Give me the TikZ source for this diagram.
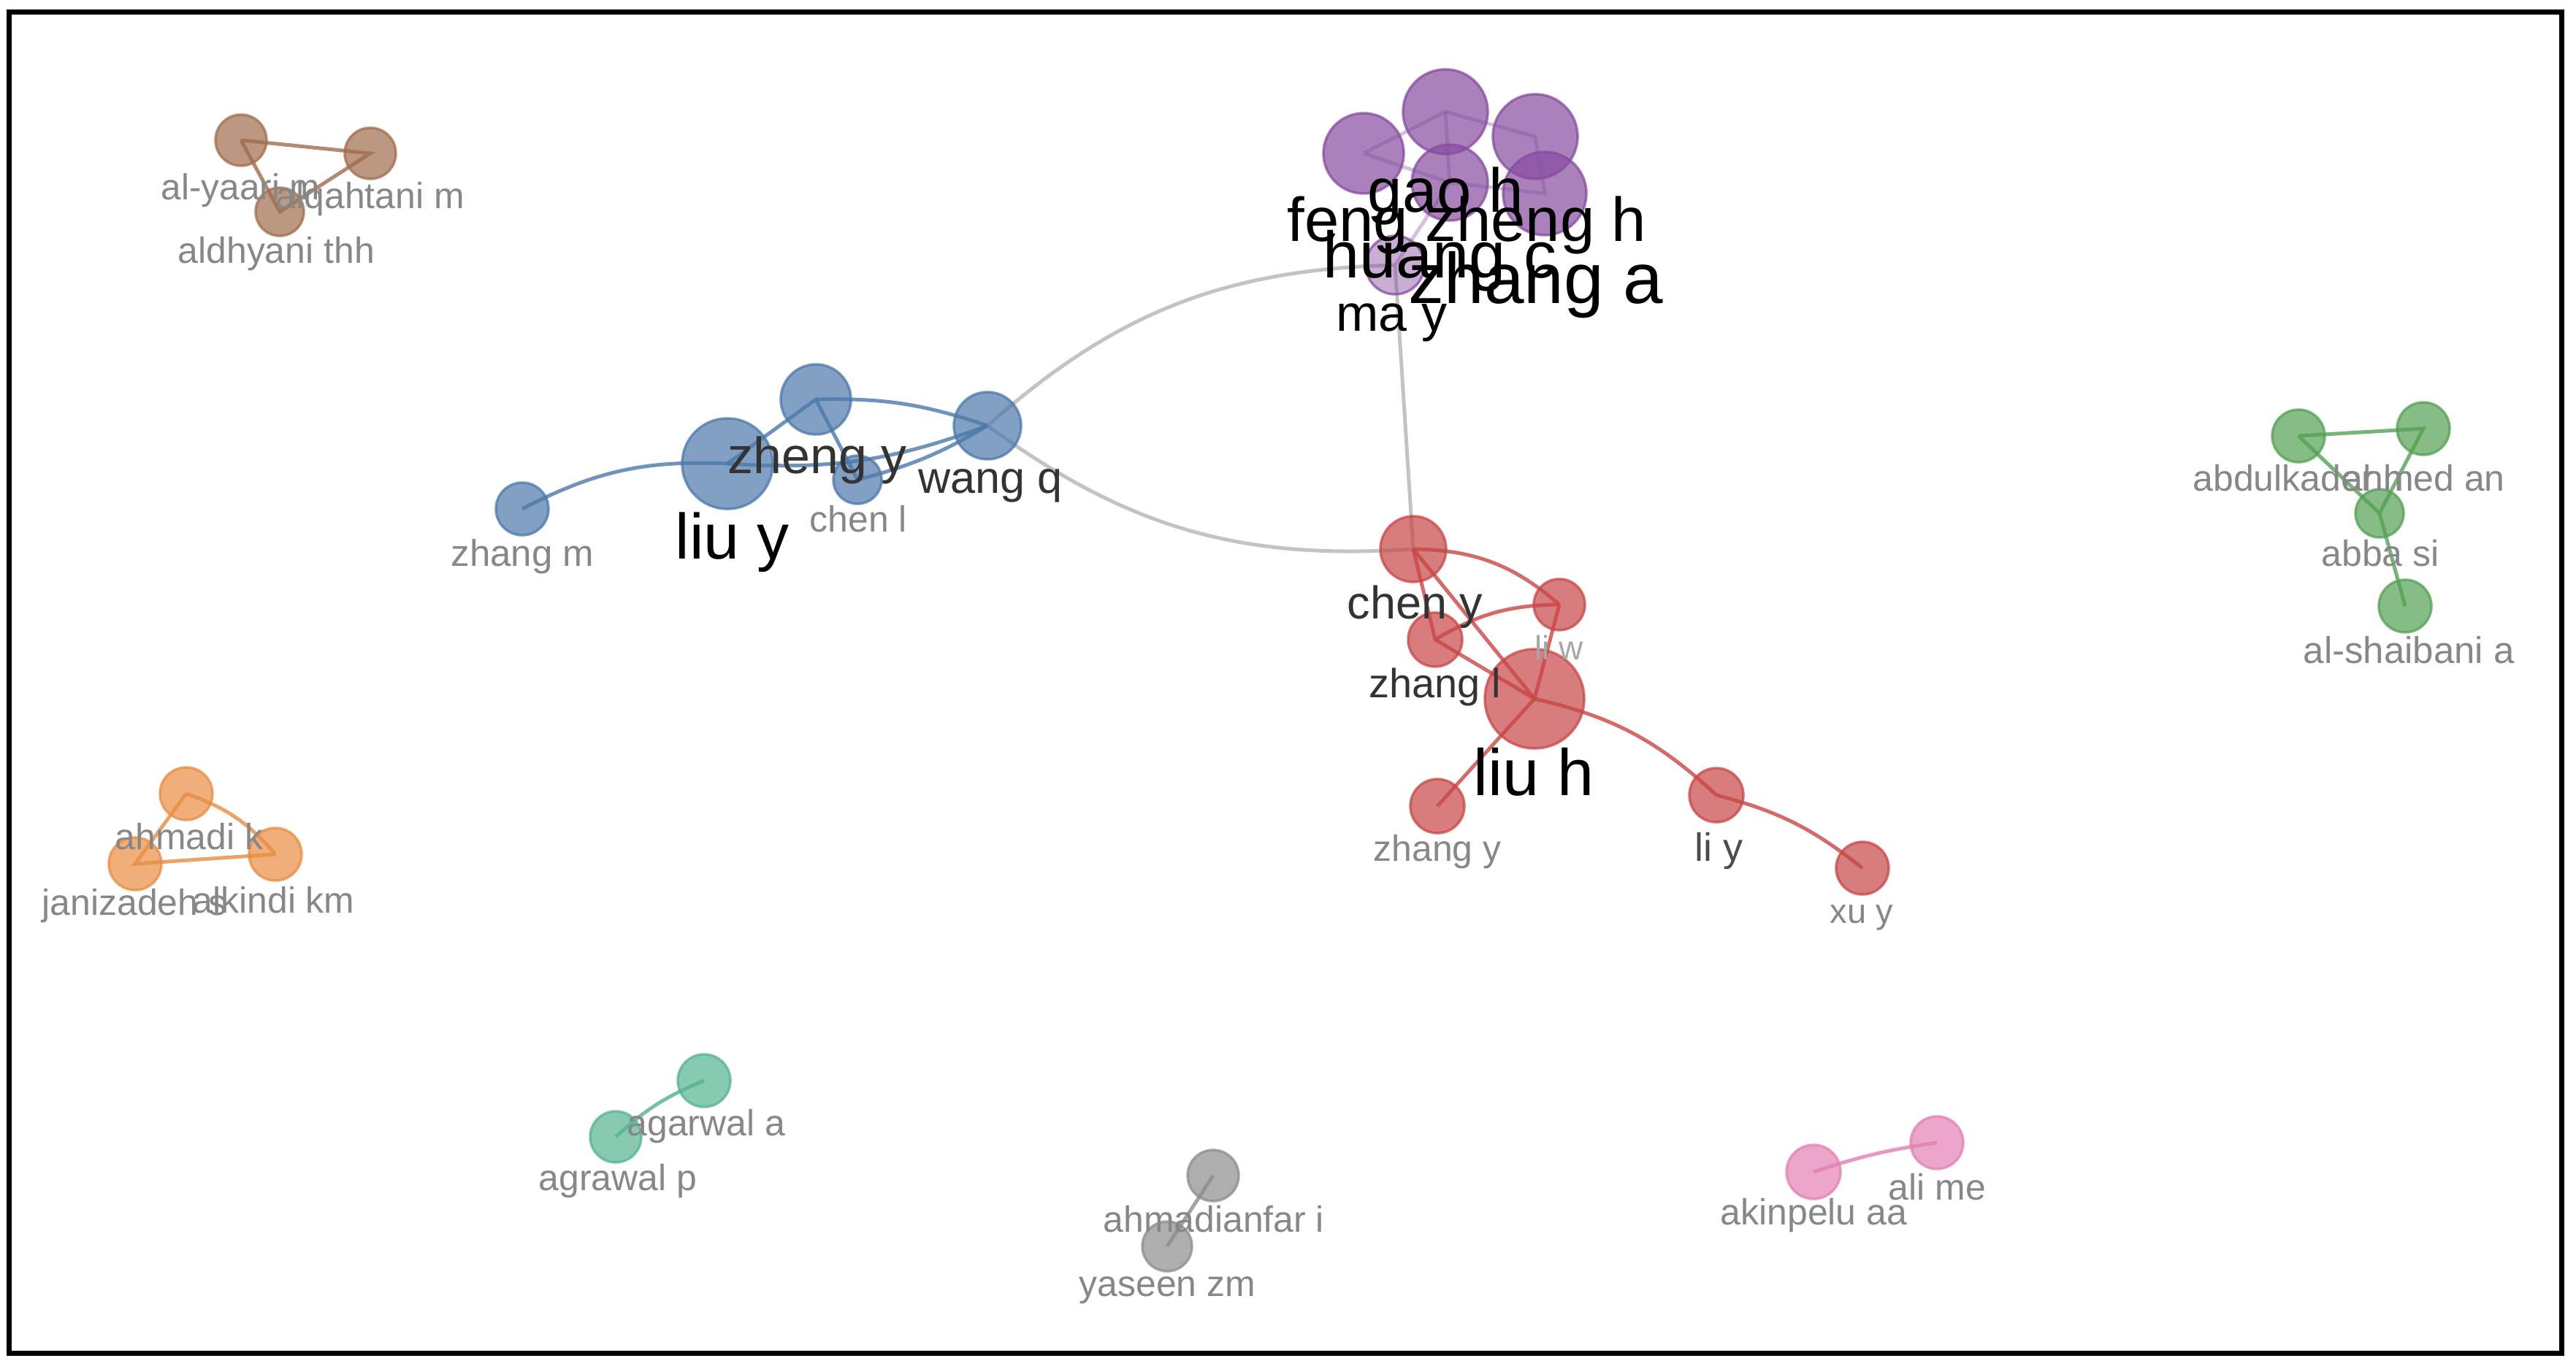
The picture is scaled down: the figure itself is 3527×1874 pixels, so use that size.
\documentclass[tikz,border=0pt]{standalone}
\usepackage{fontspec}
\setmainfont{Liberation Sans}
\usepackage{xcolor}
\usepackage{tikz}
\definecolor{cBlue}{RGB}{76,120,170}
\definecolor{cRed}{RGB}{200,70,70}
\definecolor{cPurple}{RGB}{135,75,160}
\definecolor{cGreen}{RGB}{84,160,84}
\definecolor{cBrown}{RGB}{160,108,78}
\definecolor{cOrange}{RGB}{232,140,66}
\definecolor{cTeal}{RGB}{86,178,146}
\definecolor{cGrey}{RGB}{140,140,140}
\definecolor{cPink}{RGB}{226,128,180}
\definecolor{link}{RGB}{180,180,180}
\definecolor{faint}{RGB}{135,135,135}
\pgfdeclarelayer{edges}
\pgfsetlayers{edges,main}
\tikzset{
	bub/.style={circle, inner sep=0pt, draw=#1, fill=#1, draw opacity=.75, fill opacity=.7, line width=.35mm},
	tie/.style={draw=#1, line width=.5mm, draw opacity=.8},
	lab/.style={anchor=base west, inner sep=0pt, text=faint, font=\fontsize{#1}{#1}\selectfont}
}

\begin{document}
\begin{tikzpicture}[
	x=0.1mm, y=-0.1mm,
	rad/.style={minimum size=#1*0.2mm},
	dk/.style={text=black!80},
	bk/.style={text=black}]
	\useasboundingbox (0,0) rectangle (3527,1874);
	\draw[line width=.7mm] (12,16) rectangle (3507,1853);

	% purple
	\node[bub=cPurple, rad=55] (feng) at (1867,210) {};
	\node[bub=cPurple, rad=58] (gaoh) at (1979,153) {};
	\node[bub=cPurple, rad=58] (zhengh) at (2102,187) {};
	\node[bub=cPurple, rad=52] (huangc) at (1985,250) {};
	\node[bub=cPurple, rad=57] (zhanga) at (2115,265) {};
	\node[bub=cPurple, rad=40, fill opacity=.45] (may) at (1910,363) {};
	% blue
	\node[bub=cBlue, rad=36] (zhangm) at (715,697) {};
	\node[bub=cBlue, rad=62] (liuy) at (996,635) {};
	\node[bub=cBlue, rad=48] (zhengy) at (1117,547) {};
	\node[bub=cBlue, rad=33] (chenl) at (1174,657) {};
	\node[bub=cBlue, rad=46] (wangq) at (1352,583) {};
	% red
	\node[bub=cRed, rad=45] (cheny) at (1935,752) {};
	\node[bub=cRed, rad=35] (liw) at (2135,828) {};
	\node[bub=cRed, rad=37] (zhangl) at (1965,876) {};
	\node[bub=cRed, rad=68] (liuh) at (2101,957) {};
	\node[bub=cRed, rad=37] (zhangy) at (1968,1104) {};
	\node[bub=cRed, rad=37] (liy) at (2350,1089) {};
	\node[bub=cRed, rad=36] (xuy) at (2550,1189) {};
	% green
	\node[bub=cGreen, rad=36] (abdul) at (3147,597) {};
	\node[bub=cGreen, rad=36] (ahmed) at (3318,587) {};
	\node[bub=cGreen, rad=33] (abba) at (3258,703) {};
	\node[bub=cGreen, rad=36] (shaib) at (3293,830) {};
	% small groups
	\node[bub=cBrown, rad=35] (yaari) at (330,192) {};
	\node[bub=cBrown, rad=35] (qahtani) at (507,210) {};
	\node[bub=cBrown, rad=33] (dhyani) at (383,290) {};
	\node[bub=cOrange, rad=36] (ahmadi) at (255,1087) {};
	\node[bub=cOrange, rad=36] (janiz) at (185,1183) {};
	\node[bub=cOrange, rad=36] (kindi) at (377,1170) {};
	\node[bub=cTeal, rad=36] (agarwal) at (964,1480) {};
	\node[bub=cTeal, rad=35] (agrawal) at (843,1557) {};
	\node[bub=cGrey, rad=35] (ahmadian) at (1661,1610) {};
	\node[bub=cGrey, rad=34] (yaseen) at (1598,1707) {};
	\node[bub=cPink, rad=37] (akinpelu) at (2483,1605) {};
	\node[bub=cPink, rad=36] (alime) at (2652,1565) {};

	\begin{pgfonlayer}{edges}
		\draw[tie=link] (wangq.center) to[bend left=20] (may.center);
		\draw[tie=link] (wangq.center) to[bend right=20] (cheny.center);
		\draw[tie=link] (may.center) -- (cheny.center);
		\draw[tie=cPurple, draw opacity=.35] (feng.center) -- (gaoh.center) -- (zhengh.center) -- (zhanga.center) -- (huangc.center) -- (feng.center);
		\draw[tie=cPurple, draw opacity=.35] (gaoh.center) -- (huangc.center) -- (may.center);
		\draw[tie=cBlue] (zhangm.center) to[bend left=15] (liuy.center);
		\draw[tie=cBlue] (liuy.center) -- (zhengy.center) -- (chenl.center);
		\draw[tie=cBlue] (zhengy.center) to[bend left=10] (wangq.center);
		\draw[tie=cBlue] (liuy.center) to[bend right=12] (wangq.center);
		\draw[tie=cBlue] (chenl.center) to[bend right=8] (wangq.center);
		\draw[tie=cRed] (cheny.center) to[bend left=20] (liw.center);
		\draw[tie=cRed] (cheny.center) -- (zhangl.center) -- (liuh.center);
		\draw[tie=cRed] (cheny.center) -- (liuh.center);
		\draw[tie=cRed] (zhangl.center) to[bend left=15] (liw.center);
		\draw[tie=cRed] (liw.center) -- (liuh.center) -- (zhangy.center);
		\draw[tie=cRed] (liuh.center) to[bend left=15] (liy.center);
		\draw[tie=cRed] (liy.center) to[bend left=12] (xuy.center);
		\draw[tie=cGreen] (abdul.center) -- (ahmed.center) -- (abba.center) -- (abdul.center);
		\draw[tie=cGreen] (abba.center) -- (shaib.center);
		\draw[tie=cBrown] (yaari.center) -- (qahtani.center) -- (dhyani.center) -- (yaari.center);
		\draw[tie=cOrange] (ahmadi.center) to[bend left=15] (kindi.center);
		\draw[tie=cOrange] (kindi.center) -- (janiz.center) -- (ahmadi.center);
		\draw[tie=cTeal] (agrawal.center) to[bend left=10] (agarwal.center);
		\draw[tie=cGrey] (ahmadian.center) -- (yaseen.center);
		\draw[tie=cPink] (akinpelu.center) to[bend left=5] (alime.center);
	\end{pgfonlayer}

	\node[lab=24.2, bk] (lgaoh) at (1872,290) {gao h};
	\node[lab=24.2, bk] (lfeng) at (1762,330) {feng};
	\node[lab=24.2, bk] (lzhengh) at (1951,330) {zheng h};
	\node[lab=25.6, bk] (lhuangc) at (1811,380) {huang c};
	\node[lab=27.9, bk] (lzhanga) at (1928,415) {zhang a};
	\node[lab=19.9, bk] (lmay) at (1829,453) {ma y};

	\node[lab=14.5] (lzhangm) at (617,775) {zhang m};
	\node[lab=25, bk] (lliuy) at (924,765) {liu y};
	\node[lab=19.9, dk] (lzhengy) at (996,648) {zheng y};
	\node[lab=14.2] (lchenl) at (1108,728) {chen l};
	\node[lab=17.4, dk] (lwangq) at (1257,675) {wang q};

	\node[lab=17.9, dk] (lcheny) at (1844,847) {chen y};
	\node[lab=13.1, text=black!35] (lliw) at (2101,903) {li w};
	\node[lab=15.9, dk] (lzhangl) at (1874,955) {zhang l};
	\node[lab=25.6, bk] (lliuh) at (2017,1089) {liu h};
	\node[lab=14.2] (lzhangy) at (1880,1179) {zhang y};
	\node[lab=15.4, text=black!70] (lliy) at (2320,1179) {li y};
	\node[lab=13.4] (lxuy) at (2505,1264) {xu y};

	\node[lab=14.2] (labdul) at (3002,672) {abdulkader h};
	\node[lab=14.2] (lahmed) at (3207,672) {ahmed an};
	\node[lab=14.2] (labba) at (3178,775) {abba si};
	\node[lab=14.5] (lshaib) at (3153,908) {al-shaibani a};

	\node[lab=14.1] (lyaari) at (220,273) {al-yaari m};
	\node[lab=14.2] (lqahtani) at (377,285) {alqahtani m};
	\node[lab=14.2] (ldhyani) at (243,360) {aldhyani thh};
	\node[lab=14.2] (lahmadi) at (157,1163) {ahmadi k};
	\node[lab=14.2] (ljaniz) at (57,1253) {janizadeh s};
	\node[lab=14.2] (lkindi) at (263,1250) {alkindi km};
	\node[lab=14.2] (lagarwal) at (858,1555) {agarwal a};
	\node[lab=14.2] (lagrawal) at (737,1630) {agrawal p};
	\node[lab=14.2] (lahmadian) at (1510,1687) {ahmadianfar i};
	\node[lab=14.2] (lyaseen) at (1477,1775) {yaseen zm};
	\node[lab=14.2] (lakinpelu) at (2355,1677) {akinpelu aa};
	\node[lab=14.2] (lalime) at (2585,1643) {ali me};
\end{tikzpicture}
\end{document}
